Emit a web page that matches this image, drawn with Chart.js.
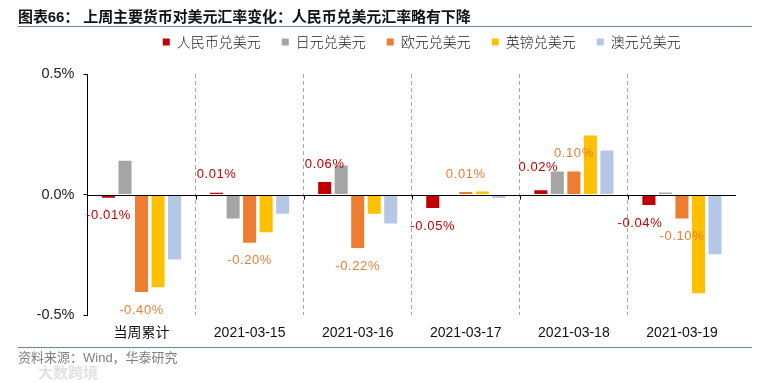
<!DOCTYPE html>
<html lang="zh">
<head>
<meta charset="utf-8">
<title>上周主要货币对美元汇率变化</title>
<script src="https://cdn.jsdelivr.net/npm/chart.js@4"></script>
<style>
  html, body { margin: 0; padding: 0; background: #fff; }
  #wrap { position: relative; width: 762px; height: 383px; overflow: hidden; }
  canvas { position: absolute; left: 0; top: 0; }
  .txt { position: absolute; white-space: pre; font-family: "Liberation Sans", "Noto Sans CJK SC", sans-serif; }
  #title { left: 18px; top: 7px; font-size: 15px; line-height: 20px; font-weight: bold; color: #111; letter-spacing: -0.1px; }
  #source { left: 18px; top: 350px; font-size: 13px; line-height: 16px; color: #7f7f7f; }
  #mark { left: 38px; top: 364px; font-size: 15px; line-height: 17px; font-weight: bold; color: #e2e2e2; }
  .rule { position: absolute; left: 18px; width: 734px; height: 1px; background: #70879c; }
</style>
</head>
<body>
<div id="wrap">
  <canvas id="c" width="762" height="383"></canvas>
  <div class="txt" id="title">图表66： 上周主要货币对美元汇率变化：人民币兑美元汇率略有下降</div>
  <div class="rule" style="top:26px"></div>
  <div class="rule" style="top:347px"></div>
  <div class="txt" id="source">资料来源：Wind，华泰研究</div>
  <div class="txt" id="mark">大数跨境</div>
</div>
<script>
const categories = ['当周累计', '2021-03-15', '2021-03-16', '2021-03-17', '2021-03-18', '2021-03-19'];
const yTicks = [-0.5, 0, 0.5];

const seriesNames = ['人民币兑美元', '日元兑美元', '欧元兑美元', '英镑兑美元', '澳元兑美元'];
const cny = [-0.014, 0.007, 0.052, -0.056, 0.018, -0.044];
const jpy = [0.14, -0.10, 0.12, 0, 0.095, 0.008];
const eur = [-0.405, -0.20, -0.222, 0.01, 0.095, -0.10];
const gbp = [-0.385, -0.157, -0.08, 0.012, 0.245, -0.41];
const aud = [-0.27, -0.08, -0.12, -0.015, 0.183, -0.248];

const cnyLabels = ['-0.01%', '0.01%', '0.06%', '-0.05%', '0.02%', '-0.04%'];
const eurLabels = ['-0.40%', '-0.20%', '-0.22%', '0.01%', '0.10%', '-0.10%'];

const colors = ['#C00000', '#A5A5A5', '#ED7D31', '#FFC000', '#B4C7E7'];
const seriesValues = [cny, jpy, eur, gbp, aud];

// Small nudges [dx, dy] for labels that sit away from their default spot above/below the bar
const labelNudge = { '0:4': [-2.5, -5], '0:5': [-9, 0] };

const valueLabels = {
  id: 'valueLabels',
  afterDatasetsDraw(chart) {
    const ctx = chart.ctx;
    [[0, cnyLabels], [2, eurLabels]].forEach(([ds, texts]) => {
      const meta = chart.getDatasetMeta(ds);
      texts.forEach((text, i) => {
        const bar = meta.data[i];
        const up = seriesValues[ds][i] >= 0;
        const n = labelNudge[ds + ':' + i] || [0, 0];
        ctx.save();
        ctx.font = '13px "Liberation Sans", sans-serif';
        ctx.letterSpacing = '0.6px';
        ctx.fillStyle = colors[ds];
        ctx.textAlign = 'center';
        ctx.textBaseline = 'middle';
        ctx.fillText(text, bar.x + n[0], bar.y + (up ? -18 : 18) + n[1]);
        ctx.restore();
      });
    });
  }
};

const zeroAxisTicks = {
  id: 'zeroAxisTicks',
  afterDatasetsDraw(chart) {
    const { ctx, scales: { x, y } } = chart;
    const y0 = Math.round(y.getPixelForValue(0)) + 0.5;
    ctx.save();
    ctx.strokeStyle = '#000';
    ctx.lineWidth = 1;
    ctx.beginPath();
    ctx.moveTo(chart.chartArea.left, y0);
    ctx.lineTo(chart.chartArea.right, y0);
    const step = x.getPixelForValue(1) - x.getPixelForValue(0);
    categories.forEach((_, i) => {
      if (i === 0) return;
      const px = Math.round(x.getPixelForValue(i) - step / 2) + 0.5;
      ctx.moveTo(px, y0);
      ctx.lineTo(px, y0 + 4);
    });
    ctx.stroke();
    ctx.restore();
  }
};

const shiftLegend = {
  id: 'shiftLegend',
  afterLayout(chart) {
    chart.legend.left += 40;
    chart.legend.right += 40;
    chart.legend.top -= 15;
    chart.legend.bottom -= 15;
  }
};

new Chart(document.getElementById('c'), {
  type: 'bar',
  data: {
    labels: categories,
    datasets: seriesNames.map((name, i) => ({
      label: name,
      data: seriesValues[i],
      backgroundColor: colors[i],
      borderWidth: 0,
      categoryPercentage: 0.764,
      barPercentage: 0.79
    }))
  },
  plugins: [valueLabels, zeroAxisTicks, shiftLegend],
  options: {
    responsive: false,
    animation: false,
    devicePixelRatio: 1,
    layout: { padding: { left: 27.5, right: 26, top: 29, bottom: 0 } },
    plugins: {
      title: { display: false },
      tooltip: { enabled: false },
      legend: {
        display: true,
        position: 'top',
        align: 'center',
        labels: {
          boxWidth: 7,
          boxHeight: 7,
          padding: 21,
          color: '#222',
          font: { size: 14, family: '"Noto Sans CJK SC", sans-serif', weight: '300' }
        }
      }
    },
    scales: {
      x: {
        position: 'bottom',
        border: { display: false, dash: [4, 3] },
        afterFit(s) { s.height = 68; },
        grid: {
          offset: true,
          drawTicks: false,
          color: c => (c.index > 0 && c.index < categories.length ? '#a6a6a6' : 'transparent'),
          lineWidth: 1
        },
        ticks: {
          color: '#111',
          padding: 10,
          maxRotation: 0,
          autoSkip: false,
          font: { size: 14, family: '"Liberation Sans", "Noto Sans CJK SC", sans-serif' }
        }
      },
      y: {
        min: yTicks[0],
        max: yTicks[2],
        afterFit(s) { s.width = 60; },
        afterBuildTicks(s) { s.ticks = yTicks.map(v => ({ value: v })); },
        border: { display: true, color: '#000', width: 1 },
        grid: {
          drawOnChartArea: false,
          drawTicks: true,
          tickLength: 4,
          tickColor: '#000'
        },
        ticks: {
          color: '#222',
          padding: 9,
          font: { size: 14.5, family: '"Liberation Sans", sans-serif' },
          callback: v => v.toFixed(1) + '%'
        }
      }
    }
  }
});
</script>
</body>
</html>
